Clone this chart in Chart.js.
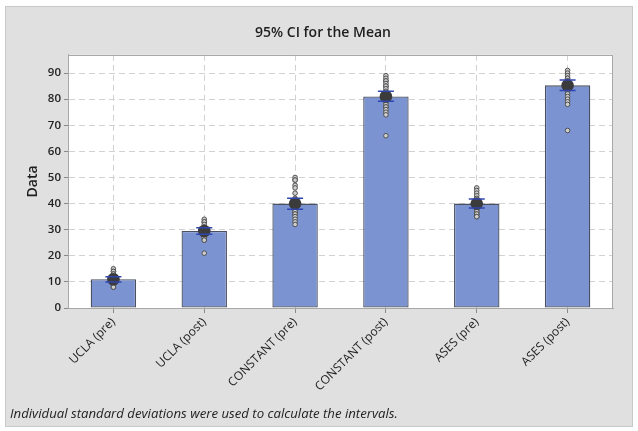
<!DOCTYPE html>
<html>
<head>
<meta charset="utf-8">
<script src="https://cdn.jsdelivr.net/npm/chart.js@4.4.1/dist/chart.umd.min.js"></script>
<style>
  html, body { margin: 0; padding: 0; background: #ffffff; width: 638px; height: 431px; overflow: hidden; }
  #panel { position: absolute; left: 5px; top: 6px; width: 626px; height: 419px; background: #e0e0e0; border: 1px solid #c9c9c9; }
  #chart { position: absolute; left: 5px; top: 6px; }
  #note { position: absolute; left: 10px; top: 404px; font-family: "Open Sans", "Noto Sans", sans-serif; font-style: italic; font-size: 13.2px; color: #222; white-space: nowrap; }
</style>
</head>
<body>
<div id="panel"></div>
<canvas id="chart" width="628" height="421"></canvas>
<div id="note">Individual standard deviations were used to calculate the intervals.</div>
<script>
// ---- data ----
const categories = ['UCLA (pre)', 'UCLA (post)', 'CONSTANT (pre)', 'CONSTANT (post)', 'ASES (pre)', 'ASES (post)'];
const means   = [11.0, 29.5, 40.0, 81.0, 40.0, 85.3];
const ciLower = [10.0, 28.3, 37.8, 79.2, 38.3, 83.3];
const ciUpper = [12.0, 30.7, 42.0, 83.0, 41.8, 87.3];

const uclaPre      = [15, 14, 14, 13, 13, 12, 12, 12, 11, 11, 11, 11, 10, 10, 10, 10, 9, 9, 9, 8, 8];
const uclaPost     = [34, 33, 33, 32, 31, 31, 30, 30, 30, 29, 29, 29, 28, 28, 28, 27, 27, 26, 26, 21];
const constantPre  = [50, 49, 49, 47, 46, 44, 42, 41, 40, 40, 39, 38, 37, 37, 36, 36, 35, 34, 33, 32];
const constantPost = [89, 88, 87, 87, 86, 85, 85, 84, 83, 82, 81, 80, 79, 78, 77, 77, 76, 75, 74, 66];
const asesPre      = [46, 45, 44, 43, 42, 41, 41, 40, 40, 40, 39, 39, 38, 38, 37, 37, 36, 36, 35, 35];
const asesPost     = [91, 90, 89, 88, 88, 87, 87, 86, 86, 85, 85, 84, 84, 83, 82, 81, 80, 79, 78, 68];

const yTickLabels = [0, 10, 20, 30, 40, 50, 60, 70, 80, 90];
const yMinorTicks = [5, 15, 25, 35, 45, 55, 65, 75, 85, 95];
const yMin = 0, yMax = 97;

const individuals = [uclaPre, uclaPost, constantPre, constantPost, asesPre, asesPost];
const pointData = categories.flatMap((c, i) => individuals[i].map(v => ({ x: c, y: v })));

const FONT = '"Open Sans", "Noto Sans", sans-serif';

const plotFrame = {
  id: 'plotFrame',
  beforeDraw(chart) {
    const { ctx, chartArea: a } = chart;
    ctx.save();
    ctx.fillStyle = '#ffffff';
    ctx.fillRect(a.left, a.top, a.right - a.left, a.bottom - a.top);
    ctx.restore();
  },
  afterDraw(chart) {
    const { ctx, chartArea: a } = chart;
    ctx.save();
    ctx.strokeStyle = '#a8a8a8';
    ctx.lineWidth = 1;
    ctx.strokeRect(Math.round(a.left) + 0.5, Math.round(a.top) + 0.5, Math.round(a.right - a.left) - 1, Math.round(a.bottom - a.top));
    ctx.restore();
  }
};

new Chart(document.getElementById('chart'), {
  type: 'bar',
  data: {
    labels: categories,
    datasets: [
      {
        type: 'line',
        label: 'CI upper',
        data: ciUpper,
        showLine: false,
        pointStyle: 'line',
        pointRadius: 8,
        borderColor: '#2f46b0',
        borderWidth: 1.5,
        order: 1
      },
      {
        type: 'line',
        label: 'CI lower',
        data: ciLower,
        showLine: false,
        pointStyle: 'line',
        pointRadius: 8,
        borderColor: '#2f46b0',
        borderWidth: 1.5,
        order: 1
      },
      {
        type: 'line',
        label: 'Mean',
        data: means,
        showLine: false,
        pointRadius: 6.3,
        pointBackgroundColor: '#3b3b3b',
        pointBorderColor: '#3b3b3b',
        pointBorderWidth: 0,
        order: 2
      },
      {
        type: 'line',
        label: 'Individual',
        data: pointData,
        showLine: false,
        pointRadius: 2.3,
        pointBackgroundColor: '#cfcfcf',
        pointBorderColor: '#4f4f4f',
        pointBorderWidth: 1,
        order: 3
      },
      {
        type: 'bar',
        label: 'Mean bar',
        data: means,
        backgroundColor: '#7b93d1',
        borderColor: '#4a5060',
        borderWidth: 1.3,
        borderSkipped: false,
        barPercentage: 0.5,
        categoryPercentage: 1.0,
        order: 4
      }
    ]
  },
  options: {
    responsive: false,
    animation: false,
    layout: { padding: { left: 28, right: 20, top: 0, bottom: 19 } },
    plugins: {
      legend: { display: false },
      tooltip: { enabled: false },
      title: {
        display: true,
        text: '95% CI for the Mean',
        color: '#1e1e1e',
        font: { family: FONT, size: 14, weight: '600' },
        padding: { top: 19, bottom: 13 }
      }
    },
    scales: {
      x: {
        offset: true,
        grid: {
          offset: false,
          color: '#d2d2d2',
          lineWidth: 1,
          tickLength: 5,
          tickColor: '#8a8a8a',
          drawTicks: true
        },
        border: { display: true, color: '#a8a8a8', dash: [6, 4] },
        ticks: {
          color: '#222222',
          font: { family: FONT, size: 12 },
          minRotation: 45,
          maxRotation: 45,
          padding: 2,
          autoSkip: false
        },
        afterFit(s) { s.height = 100; }
      },
      y: {
        min: yMin,
        max: yMax,
        afterBuildTicks(axis) {
          axis.ticks = yTickLabels.concat(yMinorTicks).sort((a, b) => a - b).map(v => ({ value: v }));
        },
        grid: {
          color: '#d2d2d2',
          lineWidth: 1,
          tickLength: 4,
          tickColor: ctx => (ctx.tick && yTickLabels.includes(ctx.tick.value)) ? '#8a8a8a' : 'rgba(0,0,0,0)'
        },
        border: { display: true, color: '#a8a8a8', dash: [6, 4] },
        ticks: {
          color: '#222222',
          font: { family: FONT, size: 11.5, weight: '600' },
          padding: 3,
          callback: v => yTickLabels.includes(v) ? String(v) : ''
        },
        title: {
          display: true,
          text: 'Data',
          color: '#1e1e1e',
          font: { family: FONT, size: 14, weight: '600' },
          padding: { top: -8, bottom: 0 }
        },
        afterFit(s) { s.width = 35; }
      }
    }
  },
  plugins: [plotFrame]
});
</script>
</body>
</html>
